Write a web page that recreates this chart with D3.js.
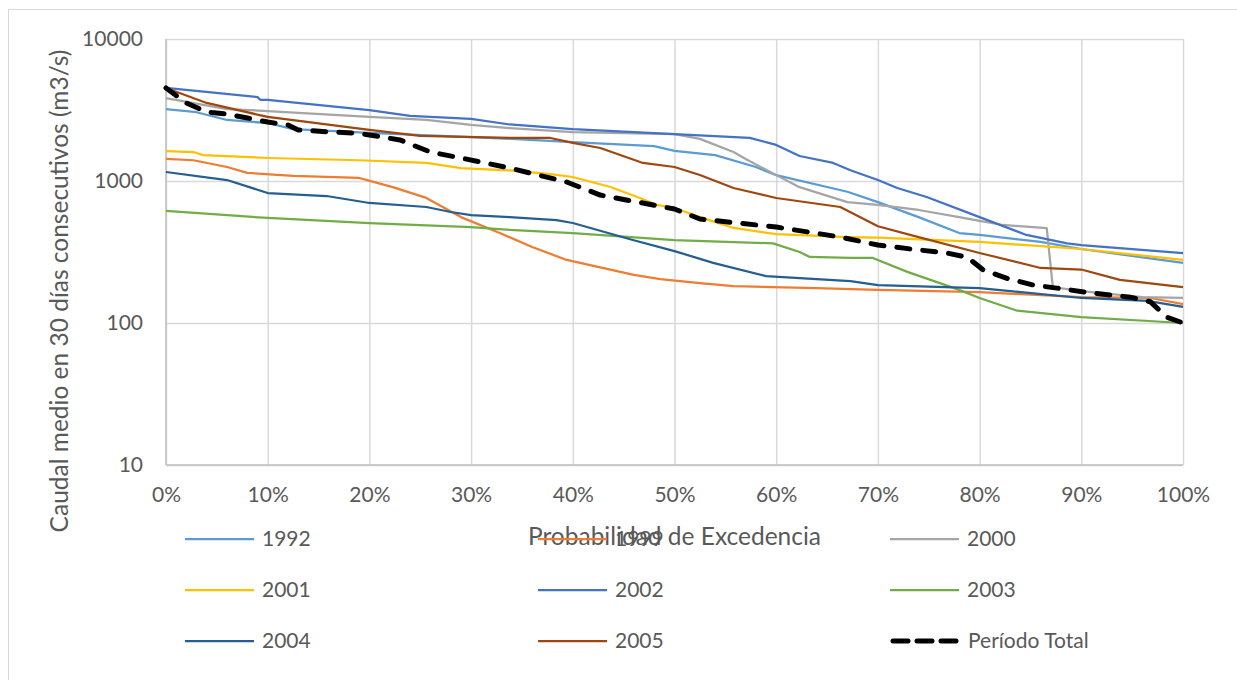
<!DOCTYPE html>
<html>
<head>
<meta charset="utf-8">
<script src="https://cdn.jsdelivr.net/npm/d3@7"></script>
<style>
  body { margin: 0; background: #fff; }
  text { font-family: Lato, "Open Sans", sans-serif; fill: #595959; }
</style>
</head>
<body>
<div class="chart"></div>
<script>
// exceedance % and flow (m3/s)
const p1992 = [0, 3, 6, 10, 12.5, 20, 30, 34, 40, 48, 50, 54, 58, 60, 67, 70, 74, 78, 80, 86, 90, 100];
const v1992 = [3210, 3050, 2690, 2560, 2320, 2180, 2040, 1980, 1880, 1760, 1630, 1520, 1255, 1100, 840, 710, 557, 430, 417, 372, 332, 265];

const p1999 = [0, 2.7, 6, 8, 12.5, 19, 20.4, 22.3, 25.6, 29, 33, 36, 39.4, 46, 48.6, 52.5, 55.8, 64, 70, 80, 90, 96.8, 100];
const v1999 = [1430, 1400, 1255, 1140, 1085, 1050, 985, 905, 760, 557, 425, 343, 278, 218, 204, 191, 182, 176, 171, 165, 152, 150, 136];

const p2000 = [0, 6, 10, 20, 25.6, 30, 33.8, 40, 50, 52.5, 55.8, 57, 60, 62.3, 67, 70, 74, 78, 80, 82.3, 86.6, 87.2, 90, 96, 100];
const v2000 = [3840, 3210, 3110, 2825, 2690, 2480, 2360, 2210, 2140, 1980, 1600, 1430, 1100, 905, 710, 678, 625, 557, 523, 490, 465, 179, 168, 152, 150];

const p2001 = [0, 2.7, 3.6, 10, 19, 25.6, 29, 31, 33.8, 37.8, 40, 43.7, 46.6, 48.3, 50, 52.5, 55.8, 60, 67, 70, 80, 90, 100];
const v2001 = [1626, 1600, 1524, 1452, 1400, 1340, 1234, 1213, 1190, 1120, 1067, 907, 759, 678, 646, 557, 467, 423, 403, 399, 372, 332, 278];

const p2002 = [0, 9, 9.3, 10, 20, 24, 30, 33.8, 40, 50, 57.4, 60, 62.3, 65.6, 67.3, 70, 71.9, 74.8, 80, 84.6, 88.6, 90, 92.5, 100];
const v2002 = [4520, 3900, 3720, 3720, 3160, 2870, 2735, 2500, 2320, 2140, 2010, 1795, 1500, 1340, 1190, 1016, 893, 771, 557, 417, 364, 354, 342, 311];

const p2003 = [0, 10, 20, 30, 33.8, 40, 50, 59.7, 62.3, 63.3, 67.3, 69.5, 72.9, 78, 80, 83.7, 90, 100];
const v2003 = [615, 549, 506, 474, 452, 430, 384, 364, 316, 292, 287, 287, 229, 171, 150, 122, 110, 100];

const p2004 = [0, 6, 10, 15.8, 20, 25.6, 28, 30, 33.8, 38.4, 40, 45.9, 50, 53.8, 59, 67.3, 70, 80, 90, 96.5, 100];
const v2004 = [1157, 1016, 823, 784, 700, 656, 605, 576, 557, 531, 506, 384, 321, 265, 214, 197, 185, 176, 150, 143, 130];

const p2005 = [0, 4, 10, 20, 25, 33.8, 37.8, 40, 42.7, 46.9, 50, 52.5, 55.8, 60, 66.3, 70, 74, 80, 86, 90, 93.8, 100];
const v2005 = [4520, 3545, 2825, 2287, 2075, 2009, 2009, 1853, 1708, 1340, 1255, 1102, 893, 759, 656, 480, 403, 311, 244, 238, 201, 179];

const pTotal = [0, 2, 4, 6, 8, 10, 12, 13, 16.4, 18.4, 20, 23, 26, 29, 33.8, 39.4, 42.7, 50, 52.5, 60, 66.3, 70, 74, 76.8, 78.8, 80.3, 82.7, 85.3, 87.6, 90.9, 94.8, 96.8, 98.4, 100];
const vTotal = [4520, 3540, 3060, 2960, 2780, 2600, 2480, 2290, 2210, 2180, 2110, 1946, 1600, 1452, 1234, 984, 796, 635, 540, 474, 403, 354, 327, 311, 290, 238, 206, 185, 176, 163, 152, 141, 110, 100];

const seriesNames = ["1992", "1999", "2000", "2001", "2002", "2003", "2004", "2005", "Período Total"];
const seriesColors = ["#5B9BD5", "#ED7D31", "#A5A5A5", "#FFC000", "#4472C4", "#70AD47", "#255E91", "#9E480E", "#000000"];
const xTicks = [0, 10, 20, 30, 40, 50, 60, 70, 80, 90, 100];
const yTicks = [10, 100, 1000, 10000];

const xs = [p1992, p1999, p2000, p2001, p2002, p2003, p2004, p2005, pTotal];
const ys = [v1992, v1999, v2000, v2001, v2002, v2003, v2004, v2005, vTotal];
const series = seriesNames.map((name, i) => ({
  name: name,
  color: seriesColors[i],
  dashed: i === seriesNames.length - 1,
  values: xs[i].map((p, j) => ({ p: p, v: ys[i][j] }))
}));

const wdth = 1237, hght = 680;
const plot = { left: 166, right: 1183, top: 39, bottom: 465 };

const svg = d3.select(".chart")
  .append("svg")
  .attr("width", wdth)
  .attr("height", hght);

// outer chart border
svg.append("rect")
  .attr("x", 8.5).attr("y", 9.5)
  .attr("width", 1240).attr("height", 680)
  .attr("fill", "none")
  .attr("stroke", "#d9d9d9");

const x = d3.scaleLinear().domain([0, 100]).range([plot.left, plot.right]);
const y = d3.scaleLog().domain([10, 10000]).range([plot.bottom, plot.top]);

// gridlines
svg.append("g")
  .attr("transform", `translate(0,${plot.bottom})`)
  .call(d3.axisBottom(x).tickValues(xTicks).tickSize(-(plot.bottom - plot.top)).tickFormat(""))
  .call(g => g.select(".domain").remove())
  .call(g => g.selectAll("line").attr("stroke", "#d9d9d9").attr("stroke-width", 1.5));

svg.append("g")
  .attr("transform", `translate(${plot.left},0)`)
  .call(d3.axisLeft(y).tickValues(yTicks).tickSize(-(plot.right - plot.left)).tickFormat(""))
  .call(g => g.select(".domain").remove())
  .call(g => g.selectAll("line").attr("stroke", "#d9d9d9").attr("stroke-width", 1.5));

// axis lines
svg.append("line")
  .attr("x1", plot.left).attr("x2", plot.left)
  .attr("y1", plot.top).attr("y2", plot.bottom)
  .attr("stroke", "#bfbfbf").attr("stroke-width", 1.5);
svg.append("line")
  .attr("x1", plot.left).attr("x2", plot.right)
  .attr("y1", plot.bottom).attr("y2", plot.bottom)
  .attr("stroke", "#bfbfbf").attr("stroke-width", 1.5);

// tick labels
svg.append("g")
  .attr("transform", `translate(${plot.left},0)`)
  .call(d3.axisLeft(y).tickValues(yTicks).tickSize(0).tickPadding(23).tickFormat(d3.format("d")))
  .call(g => g.select(".domain").remove())
  .selectAll("text")
  .attr("font-size", 21)
  .attr("font-family", null);

svg.append("g")
  .attr("transform", `translate(0,${plot.bottom})`)
  .call(d3.axisBottom(x).tickValues(xTicks).tickSize(0).tickPadding(22).tickFormat(d => d + "%"))
  .call(g => g.select(".domain").remove())
  .selectAll("text")
  .attr("font-size", 21)
  .attr("font-family", null);

// series
const line = d3.line()
  .x(d => x(d.p))
  .y(d => y(d.v));

svg.append("g")
  .selectAll("path")
  .data(series)
  .enter()
  .append("path")
  .attr("d", d => line(d.values))
  .attr("fill", "none")
  .attr("stroke", d => d.color)
  .attr("stroke-width", d => d.dashed ? 5 : 2.25)
  .attr("stroke-linecap", d => d.dashed ? "round" : "butt")
  .attr("stroke-linejoin", "round")
  .attr("stroke-dasharray", d => d.dashed ? "13,13" : null);

// axis titles
svg.append("text")
  .attr("x", (plot.left + plot.right) / 2)
  .attr("y", 545)
  .attr("text-anchor", "middle")
  .attr("font-size", 24.5)
  .text("Probabilidad de Excedencia");

svg.append("text")
  .attr("transform", "translate(68,291) rotate(-90)")
  .attr("text-anchor", "middle")
  .attr("font-size", 24.5)
  .text("Caudal medio en 30 días consecutivos (m3/s)");

// legend, 3 columns
const legCols = [185, 538, 890];
const legRows = [539, 590, 641];

const leg = svg.append("g")
  .selectAll("g")
  .data(series)
  .enter()
  .append("g")
  .attr("transform", (d, i) => `translate(${legCols[i % 3]},${legRows[Math.floor(i / 3)]})`);

leg.append("line")
  .attr("x1", d => d.dashed ? 3 : 0)
  .attr("x2", d => d.dashed ? 66 : 69)
  .attr("stroke", d => d.color)
  .attr("stroke-width", d => d.dashed ? 5 : 2.25)
  .attr("stroke-linecap", d => d.dashed ? "round" : "butt")
  .attr("stroke-dasharray", d => d.dashed ? "15,9" : null);

leg.append("text")
  .attr("x", d => d.dashed ? 78 : 77)
  .attr("y", 7)
  .attr("font-size", 21)
  .text(d => d.name);
</script>
</body>
</html>
